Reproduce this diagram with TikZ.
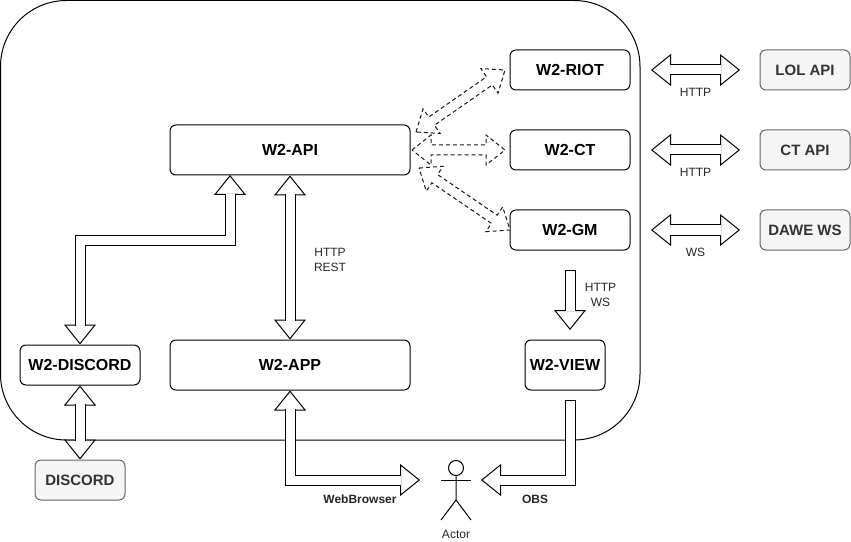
\documentclass[tikz,border=0pt]{standalone}
\usepackage{fontspec}
\setmainfont{Liberation Sans}
\usepackage{tikz}
\usetikzlibrary{arrows.meta,calc}
\tikzset{
  flexhead/.tip={Triangle[width=24pt,length=15pt,fill=white,line width=.75pt]},
  flexshaft/.style={draw=black,line width=.75pt,double=white,double distance=6.75pt},
  flextwo/.style={draw,line width=.75pt,{flexhead}-{flexhead},postaction={draw,-,flexshaft,shorten <=14pt,shorten >=14pt}},
  flexone/.style={draw,line width=.75pt,{Bar[width=8.25pt,line width=.75pt]}-{flexhead},postaction={draw,-,flexshaft,shorten <=.7pt,shorten >=14pt}},
  flexdash/.style={draw=black!90,line width=.75pt,dash pattern=on 3pt off 2.25pt,fill=white},
  box/.style={draw,line width=.75pt,rounded corners=4.5pt,minimum height=30pt,font=\fontsize{12}{14}\selectfont\bfseries},
  extbox/.style={box,draw=black!60,fill=black!4,text=black!80,font=\fontsize{11.25}{14}\selectfont\bfseries},
  lbl/.style={font=\fontsize{9}{11}\selectfont,align=center,inner sep=0pt,text=black!85},
  boldlbl/.style={lbl,font=\fontsize{9}{11}\selectfont\bfseries},
}
\newcommand{\dashedflex}[2]{
\draw[flexdash] (#1) -- ($(#1)!14.25pt!(#2)!11.25pt!90:(#2)$) -- ($(#1)!14.25pt!(#2)!3.75pt!90:(#2)$)
  -- ($(#2)!14.25pt!(#1)!3.75pt!-90:(#1)$) -- ($(#2)!14.25pt!(#1)!11.25pt!-90:(#1)$) -- (#2)
  -- ($(#2)!14.25pt!(#1)!11.25pt!90:(#1)$) -- ($(#2)!14.25pt!(#1)!3.75pt!90:(#1)$)
  -- ($(#1)!14.25pt!(#2)!3.75pt!-90:(#2)$) -- ($(#1)!14.25pt!(#2)!11.25pt!-90:(#2)$) -- cycle;
}

\begin{document}
\begin{tikzpicture}[x=.75pt,y=-.75pt]
\useasboundingbox (0,0) rectangle (851,542);
% system frame
\draw[line width=.75pt,rounded corners=49.5pt] (.5,.5) rectangle (640,440);

% inner services
\node[box,minimum width=90pt] (riot) at (570,70) {W2-RIOT};
\node[box,minimum width=90pt] (ct) at (570,150) {W2-CT};
\node[box,minimum width=90pt] (gm) at (570,230) {W2-GM};
\node[box,minimum width=180pt,minimum height=37.5pt] (api) at (290,150) {W2-API};
\node[box,minimum width=180pt,minimum height=37.5pt] (app) at (290,365) {W2-APP};
\node[box,minimum width=90pt] (wdiscord) at (80,365) {W2-DISCORD};
\node[box,minimum width=60pt,minimum height=37.5pt] (view) at (565,365) {W2-VIEW};

% outside
\node[extbox,minimum width=67.5pt] (lol) at (805,70) {LOL API};
\node[extbox,minimum width=67.5pt] (ctapi) at (805,150) {CT API};
\node[extbox,minimum width=67.5pt] (dawe) at (805,230) {DAWE WS};
\node[extbox,minimum width=67.5pt] (discord) at (80,480) {DISCORD};

% actor
\node[circle,draw,line width=.75pt,minimum size=11.25pt,inner sep=0pt] (head) at (456,468) {};
\coordinate (hip) at (456,500);
\draw[line width=.75pt] (head.south) -- (hip) -- (441,520);
\draw[line width=.75pt] (hip) -- (471,520);
\draw[line width=.75pt] (441,480) -- (471,480);
\node[lbl] (actor) at (456,534) {Actor};

% free ends
\coordinate (apiL) at (230,175);
\coordinate (riotA) at (416,132);
\coordinate (riotB) at (505,70);
\coordinate (ctA) at (412,150);
\coordinate (ctB) at (505,150);
\coordinate (gmA) at (419,168);
\coordinate (gmB) at (510,230);
\coordinate (viewT) at (570,270);
\coordinate (viewU) at (570,330);
\coordinate (viewD) at (570,400);
\coordinate (actorL) at (420,480);
\coordinate (actorR) at (481,480);

\draw[flextwo] (apiL) -- ++(0,65) -| (wdiscord.north);
\draw[flextwo] (api.south) -- (app.north);
\draw[flextwo] (wdiscord.south) -- (discord.north);
\draw[flextwo] (app.south) |- (actorL);
\draw[flexone] (viewT) -- (viewU);
\draw[flexone] (viewD) |- (actorR);

\dashedflex{riotA}{riotB}
\dashedflex{gmA}{gmB}
\dashedflex{ctA}{ctB}

\draw[flextwo] (651,70) -- (740,70);
\draw[flextwo] (651,150) -- (740,150);
\draw[flextwo] (651,230) -- (740,230);

\node[lbl] (httpa) at (695.5,92) {HTTP};
\node[lbl] (httpb) at (695.5,172) {HTTP};
\node[lbl] (ws) at (695.5,252) {WS};
\node[lbl] (rest) at (330,260) {HTTP\\REST};
\node[lbl] (viewlbl) at (600.5,295) {HTTP\\WS};
\node[boldlbl] (browser) at (360,499) {WebBrowser};
\node[boldlbl] (obs) at (535,499) {OBS};
\end{tikzpicture}
\end{document}
